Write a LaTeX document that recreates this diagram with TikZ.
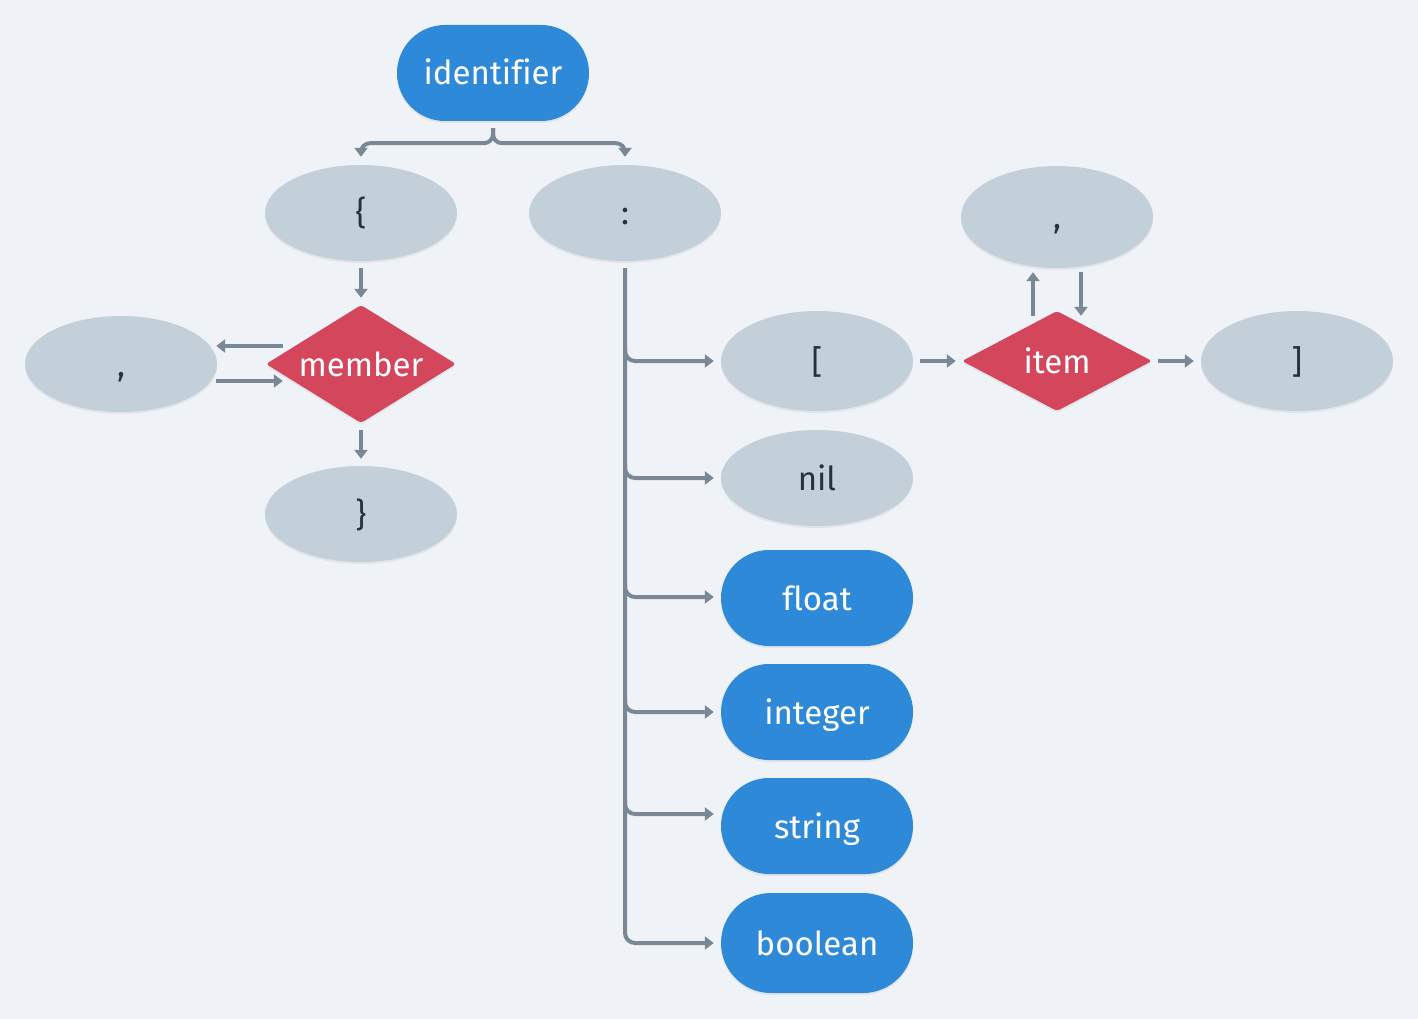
\documentclass[tikz,border=0pt]{standalone}
\usepackage{fontspec}
\setmainfont[Ligatures=NoCommon]{Fira Sans}
\usetikzlibrary{shapes.geometric, shapes.misc, arrows.meta, shadows, calc}
\definecolor{bgpale}{RGB}{239, 243, 247}
\definecolor{nodeblue}{RGB}{46, 137, 217}
\definecolor{termgray}{RGB}{195, 208, 218}
\definecolor{choicered}{RGB}{212, 70, 92}
\definecolor{linegray}{RGB}{122, 136, 150}
\definecolor{textdark}{RGB}{37, 50, 63}
\newcommand{\nodefont}{\fontsize{33}{38}\selectfont}

\begin{document}
\begin{tikzpicture}[x=1pt, y=-1pt,
  soft/.style={drop shadow={shadow xshift=0pt, shadow yshift=-2pt, opacity=0.12}},
  base/.style={inner sep=0pt, font=\nodefont, text height=26pt, text depth=2pt, soft},
  pill/.style={base, rounded rectangle, fill=nodeblue, text=white, minimum width=192pt, minimum height=96pt},
  term/.style={base, ellipse, fill=termgray, text=textdark, minimum width=192pt, minimum height=96pt},
  choice/.style={base, diamond, fill=choicered, text=white, minimum width=190pt, rounded corners=3pt},
  conn/.style={draw=linegray, line width=4pt, -{Triangle[length=9pt, width=13pt]}}]

  % background
  \fill[bgpale] (0,0) rectangle (1418,1019);

  % top
  \node[pill] (ident) at (493,73) {identifier};
  \node[term] (lbrace) at (361,213) {\{};
  \node[term] (colon) at (625,213) {:};

  % object
  \node[term] (lcomma) at (121,364) {,};
  \node[choice, aspect=1.6, minimum height=118pt] (member) at (361,364) {member};
  \node[term] (rbrace) at (361,514) {\}};

  % array
  \node[term, minimum height=100pt] (lbrack) at (817,361) {[};
  \node[choice, aspect=1.9, minimum height=100pt] (item) at (1057,361) {item};
  \node[term, minimum height=102pt] (tcomma) at (1057,217) {,};
  \node[term, minimum height=100pt] (rbrack) at (1297,361) {]};

  % values
  \node[term] (nil) at (817,478) {nil};
  \node[pill] (float) at (817,598) {float};
  \node[pill] (integer) at (817,712) {integer};
  \node[pill] (string) at (817,826) {string};
  \node[pill, minimum height=100pt] (boolean) at (817,943) {boolean};

  % brace from identifier
  \draw[conn, rounded corners=9pt] ([yshift=-7pt]ident.south) -- ++(0,15) -| ([yshift=8pt]lbrace.north);
  \draw[conn, rounded corners=9pt] ([yshift=-7pt]ident.south) -- ++(0,15) -| ([yshift=8pt]colon.north);

  % member loop
  \draw[conn] ([yshift=-7pt]lbrace.south) -- ([yshift=7pt]member.north);
  \draw[conn] ([xshift=17pt, yshift=18pt]member.west) -- ([xshift=-1pt, yshift=18pt]lcomma.east);
  \draw[conn] ([xshift=-1pt, yshift=-17pt]lcomma.east) -- ([xshift=17pt, yshift=-17pt]member.west);
  \draw[conn] ([yshift=-7pt]member.south) -- ([yshift=7pt]rbrace.north);

  % value trunk
  \draw[conn, rounded corners=10pt] ([yshift=-7pt]colon.south) |- ([xshift=-7pt]boolean.west);
  \foreach \n/\dy in {lbrack/0, nil/0, float/1, integer/0, string/12}
    \draw[conn, rounded corners=10pt] ($(colon.south |- \n.west)+(0,-\dy-14)$) |- ([xshift=-7pt, yshift=\dy pt]\n.west);

  % item loop
  \draw[conn] ([xshift=7pt]lbrack.east) -- ([xshift=-6pt]item.west);
  \draw[conn] ([xshift=6pt]item.east) -- ([xshift=-7pt]rbrack.west);
  \draw[conn] ([xshift=-24pt, yshift=-5pt]item.north) -- ([xshift=-24pt, yshift=-4pt]tcomma.south);
  \draw[conn] ([xshift=24pt, yshift=-4pt]tcomma.south) -- ([xshift=24pt, yshift=-5pt]item.north);
\end{tikzpicture}
\end{document}
